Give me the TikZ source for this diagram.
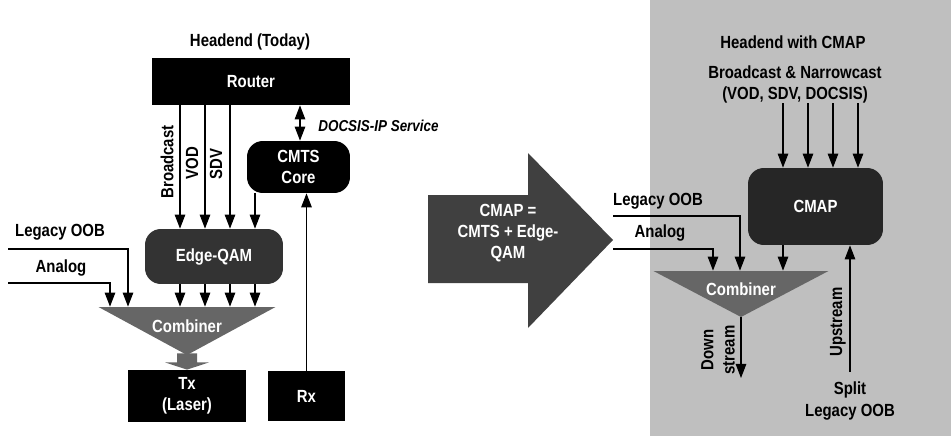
\documentclass[tikz,border=0pt]{standalone}
\usepackage{fontspec}
\setmainfont{Liberation Sans}[FakeStretch=0.85]
\usepackage{tikz}
\usetikzlibrary{arrows.meta, calc}
\tikzstyle{blackbox} = [rectangle, fill=black, text=white, font=\bfseries, align=center, inner sep=0pt]
\tikzstyle{roundbox} = [blackbox, rounded corners=9pt]
\tikzstyle{txt} = [font=\bfseries, align=center, inner sep=0pt]
\tikzstyle{vtxt} = [txt, rotate=90]
\tikzstyle{combiner} = [inner sep=0pt, text=white, font=\bfseries, path picture={\fill[black!60] (path picture bounding box.north west) -- (path picture bounding box.north east) -- (path picture bounding box.south) -- cycle;}]
\tikzstyle{arrow} = [line width=0.6pt, -{Triangle[width=6pt,length=8pt]}]
\tikzstyle{dblarrow} = [line width=0.6pt, {Triangle[width=6pt,length=8pt]}-{Triangle[width=6pt,length=8pt]}]

\begin{document}
\begin{tikzpicture}[x=0.02cm, y=-0.02cm, every node/.style={font=\fontsize{9}{10.4}\selectfont}]
                \useasboundingbox (0,0) rectangle (951,436);

% ---------------------------------------------
% Left: headend today
% ---------------------------------------------
                \node (hdtoday) [txt] at (250,42) {Headend (Today)};
                \node (router) [blackbox, minimum width=3.96cm, minimum height=0.94cm] at (251,81.5) {Router};
                \node (cmts) [roundbox, minimum width=2.06cm, minimum height=1.04cm] at (298.5,167) {CMTS\\Core};
                \node (eqam) [roundbox, fill=black!80, minimum width=2.76cm, minimum height=1.1cm] at (214,256.5) {Edge-QAM};
                \node (comb) [combiner, minimum width=3.54cm, minimum height=0.96cm] at (187,331) {\raisebox{5pt}{Combiner}};
                \node (tx) [blackbox, minimum width=2.36cm, minimum height=1.04cm] at (187,396) {Tx\\(Laser)};
                \node (rx) [blackbox, minimum width=1.54cm, minimum height=1.0cm] at (306.5,396) {Rx};

                \node (bctxt) [vtxt] at (167,162) {Broadcast};
                \node (vodtxt) [vtxt] at (192,163) {VOD};
                \node (sdvtxt) [vtxt] at (216,164) {SDV};
                \node (docsis) [txt, font=\fontsize{9}{10.4}\selectfont\bfseries\itshape, anchor=west] at (318,126) {DOCSIS-IP Service};

                \node (oobtxt) [txt] at (60,232) {Legacy OOB};
                \node (antxt) [txt] at (61,268) {Analog};
                \coordinate (oobL) at (8,249);
                \coordinate (anL) at (8,283);

                %  arrows (left)
                \draw [arrow] (router.south -| 180,0) -- (eqam.north -| 180,0);
                \draw [arrow] (router.south -| 205,0) -- (eqam.north -| 205,0);
                \draw [arrow] (router.south -| 230,0) -- (eqam.north -| 230,0);
                \draw [arrow] (cmts.south -| 255,0) -- (eqam.north -| 255,0);
                \draw [dblarrow] (router.south -| 300,0) -- (cmts.north -| 300,0);
                \draw [arrow] (rx.north) -- (cmts.south -| rx.north);

                \draw [arrow] (eqam.south -| 180,0) -- (comb.north -| 180,0);
                \draw [arrow] (eqam.south -| 205,0) -- (comb.north -| 205,0);
                \draw [arrow] (eqam.south -| 230,0) -- (comb.north -| 230,0);
                \draw [arrow] (eqam.south -| 255,0) -- (comb.north -| 255,0);
                \draw [arrow] (oobL) -| (comb.north -| 128,0);
                \draw [arrow] (anL) -| (comb.north -| 110,0);

                \fill [black!60] ($(comb.south)+(-10,-2)$) -- ($(comb.south)+(-10,7)$) -- ($(comb.south)+(-22,7)$) -- (tx.north) -- ($(comb.south)+(22,7)$) -- ($(comb.south)+(10,7)$) -- ($(comb.south)+(10,-2)$) -- cycle;

% ---------------------------------------------
% Middle: big arrow
% ---------------------------------------------
                \fill [black!75] (428,195) -- (528,195) -- (528,153) -- (613,240) -- (528,328) -- (528,283) -- (428,283) -- cycle;
                \node (cmapeq) [txt, text=white] at (508,233) {CMAP =\\CMTS + Edge-\\QAM};

% ---------------------------------------------
% Right: headend with CMAP
% ---------------------------------------------
                \fill [black!25] (650,0) rectangle (951,436);
                \node (hdcmap) [txt] at (793,42) {Headend with CMAP};
                \node (bnc) [txt] at (795,84) {Broadcast \& Narrowcast\\(VOD, SDV, DOCSIS)};
                \node (cmap) [roundbox, fill=black!85, minimum width=2.7cm, minimum height=1.54cm] at (815.5,206.5) {CMAP};
                \node (comb2) [combiner, minimum width=3.5cm, minimum height=0.92cm] at (741,294) {\raisebox{5pt}{Combiner}};

                \node (oob2) [txt] at (658,201) {Legacy OOB};
                \node (an2) [txt] at (660,233) {Analog};
                \coordinate (oob2L) at (613,216);
                \coordinate (an2L) at (613,249);
                \coordinate (dsend) at (741,378);
                \coordinate (usstart) at (850,372);
                \node (dstxt) [vtxt] at (718,350) {Down\\stream};
                \node (ustxt) [vtxt] at (838,322) {Upstream};
                \node (split) [txt] at (850,401) {Split\\Legacy OOB};

                %  arrows (right)
                \draw [arrow] (bnc.south -| 783,0) -- (cmap.north -| 783,0);
                \draw [arrow] (bnc.south -| 808,0) -- (cmap.north -| 808,0);
                \draw [arrow] (bnc.south -| 833,0) -- (cmap.north -| 833,0);
                \draw [arrow] (bnc.south -| 858,0) -- (cmap.north -| 858,0);
                \draw [arrow] (cmap.south -| 783,0) -- (comb2.north -| 783,0);
                \draw [arrow] (oob2L) -| (comb2.north -| 740,0);
                \draw [arrow] (an2L) -| (comb2.north -| 713,0);
                \draw [arrow] (comb2.south) -- (dsend);
                \draw [arrow] (usstart) -- (cmap.south -| usstart);

\end{tikzpicture}
\end{document}
